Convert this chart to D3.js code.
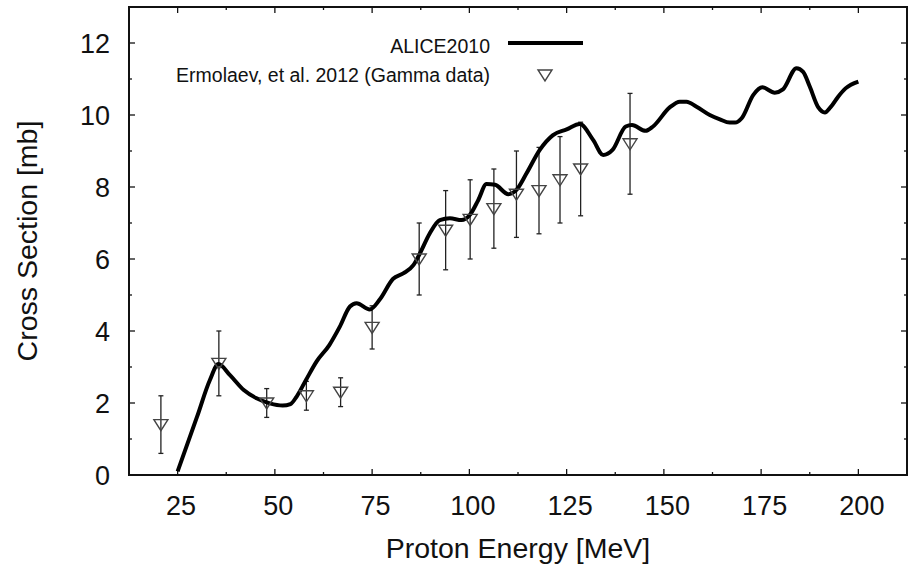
<!DOCTYPE html>
<html><head><meta charset="utf-8">
<script src="https://cdn.jsdelivr.net/npm/d3@7"></script>
<style>body{margin:0;background:#fff}svg{display:block}text{font-family:"Liberation Sans",Arial,sans-serif;fill:#111}</style>
</head><body><svg id="c" width="911" height="573"></svg>
<script>
// ALICE2010 calculation
const aliceE = [25,30,33.3,35.5,38.4,42,45.3,48.7,52,54,55.6,58,60.7,64,66.7,69.3,71,74.4,77,80.4,83,85.6,87.3,89.8,92.4,95,98,100.1,102.3,104.4,106.6,110,112.1,114.7,118.1,121.5,125,128.4,131.8,134.4,136.8,140.2,141.8,145.3,147.2,151.5,154.1,155.8,158.4,161.8,164.4,166.9,168.3,170,173,175.3,178.5,180.6,184.1,185.8,187.5,189.7,191.4,192.8,194.8,196.7,200];
const aliceXS = [0.1,1.62,2.64,3.08,2.78,2.36,2.13,1.99,1.93,1.97,2.18,2.64,3.15,3.61,4.12,4.68,4.77,4.60,4.88,5.45,5.60,5.83,6.16,6.71,7.08,7.13,7.08,7.22,7.64,8.08,8.06,7.80,7.92,8.38,9.03,9.44,9.60,9.75,9.31,8.89,9.03,9.68,9.72,9.56,9.68,10.21,10.37,10.37,10.23,10.0,9.88,9.79,9.79,9.91,10.56,10.77,10.62,10.71,11.30,11.20,10.79,10.21,10.07,10.21,10.51,10.74,10.93];
// Ermolaev et al. 2012 (Gamma data)
const expE = [20.7,35.6,47.9,58.1,66.9,75.0,87.1,93.9,100.2,106.3,112.1,117.9,123.3,128.6,141.3];
const expXS = [1.4,3.1,2.0,2.2,2.3,4.1,6.0,6.8,7.1,7.4,7.8,7.9,8.2,8.5,9.2];
const expErr = [0.8,0.9,0.4,0.4,0.4,0.6,1.0,1.1,1.1,1.1,1.2,1.2,1.2,1.3,1.4];
const xTicks = [25,50,75,100,125,150,175,200];
const yTicks = [0,2,4,6,8,10,12];
const legendLabels = ["ALICE2010","Ermolaev, et al. 2012 (Gamma data)"];
const xTitle = "Proton Energy [MeV]";
const yTitle = "Cross Section [mb]";

const svg = d3.select("#c");
const L=129,R=907,T=7,B=475;
const x = d3.scaleLinear().domain([12.5,212.5]).range([L,R]);
const y = d3.scaleLinear().domain([0,13]).range([B,T]);

const g = svg.append("g");
const xMinor = d3.range(12.5,212.6,12.5).filter(v=>!xTicks.includes(v));
const yMinor = d3.range(1,13,2);
function tick(x1,y1,x2,y2,w){g.append("line").attr("x1",x1).attr("y1",y1).attr("x2",x2).attr("y2",y2).attr("stroke","#111").attr("stroke-width",w||1.3);}
xTicks.forEach(v=>{tick(x(v),B,x(v),B-6);tick(x(v),T,x(v),T+6);});
xMinor.forEach(v=>{tick(x(v),B,x(v),B-3);tick(x(v),T,x(v),T+3);});
yTicks.forEach(v=>{tick(L,y(v),L+6,y(v));tick(R,y(v),R-6,y(v));});
yMinor.forEach(v=>{tick(L,y(v),L+3,y(v));tick(R,y(v),R-3,y(v));});

g.selectAll(".xl").data(xTicks).join("text").attr("x",d=>x(d)+3.5).attr("y",515)
  .attr("text-anchor","middle").attr("font-size",27).text(d=>d);
g.selectAll(".yl").data(yTicks).join("text").attr("x",110).attr("y",d=>y(d)).attr("dy","0.36em")
  .attr("text-anchor","end").attr("font-size",27).text(d=>d);

svg.append("text").attr("x",(L+R)/2).attr("y",558).attr("text-anchor","middle").attr("font-size",28.5).text(xTitle);
svg.append("text").attr("transform",`translate(37,${(T+B)/2}) rotate(-90)`).attr("text-anchor","middle").attr("font-size",28.5).text(yTitle);

const eg = svg.append("g").attr("stroke","#222").attr("stroke-width",1.3);
expE.forEach((e,i)=>{
  const cx=x(e), y1=y(expXS[i]+expErr[i]), y2=y(expXS[i]-expErr[i]);
  eg.append("line").attr("x1",cx).attr("x2",cx).attr("y1",y1).attr("y2",y2);
  eg.append("line").attr("x1",cx-2.5).attr("x2",cx+2.5).attr("y1",y1).attr("y2",y1);
  eg.append("line").attr("x1",cx-2.5).attr("x2",cx+2.5).attr("y1",y2).attr("y2",y2);
});

const line = d3.line().x(d=>x(d[0])).y(d=>y(d[1])).curve(d3.curveMonotoneX);
svg.append("path").datum(aliceE.map((e,i)=>[e,aliceXS[i]])).attr("d",line)
  .attr("fill","none").attr("stroke","#000").attr("stroke-width",4).attr("stroke-linejoin","round");

function tri(cx,cy){return `M${cx-7},${cy-5}L${cx+7},${cy-5}L${cx},${cy+6}Z`;}
svg.append("g").selectAll("path").data(expE.map((e,i)=>[e,expXS[i]])).join("path")
  .attr("d",d=>tri(x(d[0]),y(d[1]))).attr("fill","none").attr("stroke","#444").attr("stroke-width",1.4);

svg.append("rect").attr("x",L).attr("y",T).attr("width",R-L).attr("height",B-T)
  .attr("fill","none").attr("stroke","#111").attr("stroke-width",2);

svg.append("text").attr("x",490).attr("y",53).attr("text-anchor","end").attr("font-size",19.5).text(legendLabels[0]);
svg.append("text").attr("x",490).attr("y",82).attr("text-anchor","end").attr("font-size",19.5).text(legendLabels[1]);
svg.append("line").attr("x1",508).attr("x2",583).attr("y1",43).attr("y2",43).attr("stroke","#000").attr("stroke-width",4);
svg.append("path").attr("d",tri(545,75)).attr("fill","none").attr("stroke","#444").attr("stroke-width",1.4);
</script></body></html>
